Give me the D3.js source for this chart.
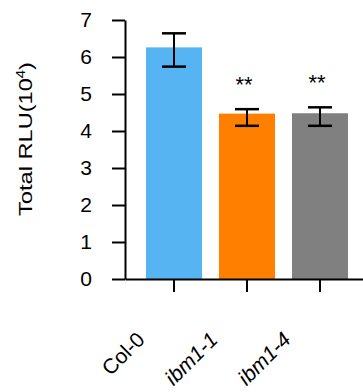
<!DOCTYPE html>
<html><head><meta charset="utf-8">
<script src="https://cdn.jsdelivr.net/npm/d3@7"></script>
<style>body{margin:0;background:#fff}svg{display:block}text{font-family:"Liberation Sans",Arial,sans-serif}</style>
</head><body>
<script>
const categories = ["Col-0", "ibm1-1", "ibm1-4"];
const means = [6.26, 4.47, 4.48];
const errUpper = [6.64, 4.59, 4.64];
const errLower = [5.74, 4.14, 4.14];
const signif = ["", "**", "**"];
const colors = ["#56B4F3", "#FF8000", "#808080"];
const yTicks = [0, 1, 2, 3, 4, 5, 6, 7];

const W = 363, H = 392;
const svg = d3.select("body").append("svg").attr("width", W).attr("height", H);

const y = d3.scaleLinear().domain([0, 7]).range([279, 20]);
const x = d3.scaleBand().domain(categories).range([125, 369]).paddingInner(0.233).paddingOuter(0.288);
const cx = d => x(d) + x.bandwidth() / 2;

// bars
svg.selectAll("rect.bar").data(categories).join("rect")
  .attr("x", d => x(d)).attr("width", x.bandwidth())
  .attr("y", (d, i) => y(means[i])).attr("height", (d, i) => y(0) - y(means[i]))
  .attr("fill", (d, i) => colors[i]);

// error bars
const eb = svg.selectAll("g.eb").data(categories).join("g")
  .attr("stroke", "#000").attr("fill", "none");
eb.append("line").attr("x1", cx).attr("x2", cx)
  .attr("y1", (d, i) => y(errUpper[i])).attr("y2", (d, i) => y(errLower[i])).attr("stroke-width", 2);
eb.append("line").attr("x1", d => cx(d) - 12).attr("x2", d => cx(d) + 12)
  .attr("y1", (d, i) => y(errUpper[i])).attr("y2", (d, i) => y(errUpper[i])).attr("stroke-width", 2.5);
eb.append("line").attr("x1", d => cx(d) - 12).attr("x2", d => cx(d) + 12)
  .attr("y1", (d, i) => y(errLower[i])).attr("y2", (d, i) => y(errLower[i])).attr("stroke-width", 2.5);

// significance
svg.selectAll("text.sig").data(categories).join("text")
  .attr("x", d => cx(d) - 3)
  .attr("y", (d, i) => y(errUpper[i]) - 17)
  .attr("text-anchor", "middle").attr("font-size", 22).attr("fill", "#000")
  .text((d, i) => signif[i]);

// y axis
const yAxis = svg.append("g").attr("transform", "translate(125,0)")
  .call(d3.axisLeft(y).tickValues(yTicks).tickSize(13).tickSizeOuter(0).tickPadding(20).tickFormat(d3.format("d")));
yAxis.select(".domain").attr("stroke-width", 2);
yAxis.selectAll(".tick line").attr("stroke-width", 2);
yAxis.selectAll(".tick text").attr("font-size", 21).attr("fill", "#000").attr("font-family", "Liberation Sans, Arial, sans-serif");

// x axis
const xAxis = svg.append("g").attr("transform", "translate(0,279)")
  .call(d3.axisBottom(x).tickSize(13).tickSizeOuter(0));
xAxis.select(".domain").attr("stroke-width", 2);
xAxis.selectAll(".tick line").attr("stroke-width", 2);
xAxis.selectAll(".tick text")
  .attr("font-size", 21).attr("fill", "#000").attr("font-family", "Liberation Sans, Arial, sans-serif")
  .attr("font-style", d => d === "Col-0" ? "normal" : "italic")
  .attr("text-anchor", "end").attr("dy", null)
  .attr("transform", "translate(-28,62) rotate(-45)").attr("y", 0).attr("x", 0);

// y label
const yl = svg.append("text")
  .attr("transform", "translate(32,139) rotate(-90)")
  .attr("text-anchor", "middle").attr("font-size", 19).attr("fill", "#000")
  .attr("textLength", 154).attr("lengthAdjust", "spacingAndGlyphs");
yl.append("tspan").text("Total RLU(10");
yl.append("tspan").attr("font-size", 12).attr("dy", -7).text("4");
yl.append("tspan").attr("dy", 7).text(")");
</script>
</body></html>
